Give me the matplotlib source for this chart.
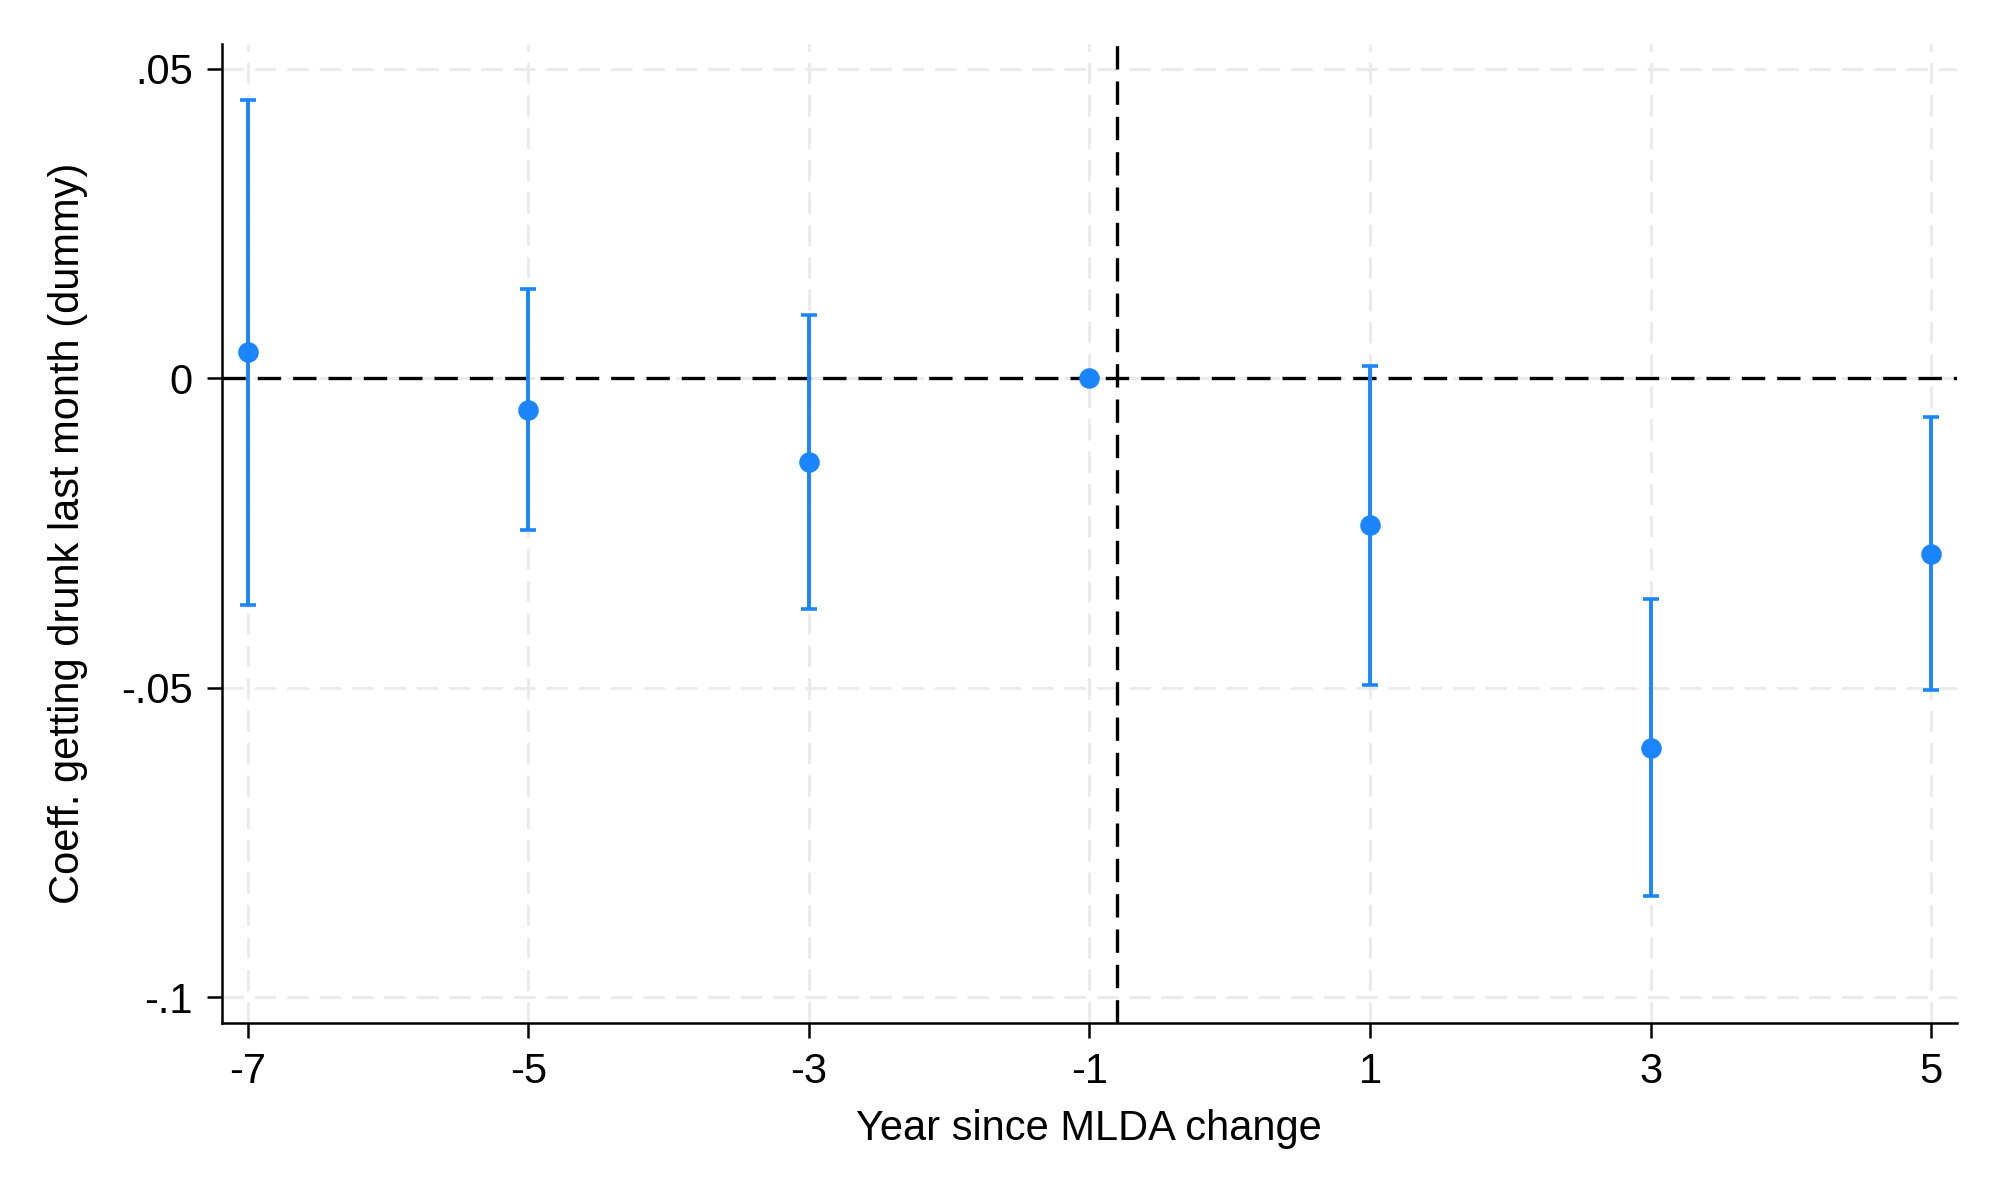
import numpy as np
import matplotlib.pyplot as plt

# event-study coefficients
years = [-7, -5, -3, -1, 1, 3, 5]
coef = [0.0042, -0.0051, -0.0135, 0.0, -0.0237, -0.0597, -0.0284]
ci_low = [-0.0366, -0.0245, -0.0372, 0.0, -0.0495, -0.0837, -0.0504]
ci_high = [0.0450, 0.0144, 0.0102, 0.0, 0.0020, -0.0357, -0.0063]

xticks = [-7, -5, -3, -1, 1, 3, 5]
yticks = [-0.1, -0.05, 0.0, 0.05]
ytick_labels = ["-.1", "-.05", "0", ".05"]
event_line = -0.8

plt.rcParams['font.family'] = ['Liberation Sans', 'DejaVu Sans']

blue = "#1a85ff"

fig = plt.figure(figsize=(10, 6), dpi=200)
ax = fig.add_axes([0.1109, 0.1473, 0.8674, 0.8164])

coef = np.array(coef)
err = np.array([coef - np.array(ci_low), np.array(ci_high) - coef])
has_ci = err.sum(axis=0) > 0

# reference period has no interval
ax.errorbar(np.array(years)[has_ci], coef[has_ci], yerr=err[:, has_ci],
            fmt="none", ecolor=blue, elinewidth=1.4, capsize=3.0,
            capthick=1.3, zorder=3)
ax.plot(years, coef, "o", color=blue, markersize=6.4, zorder=4)

ax.axhline(0, color="black", lw=1.2, dashes=(7, 3.6), zorder=2)
ax.axvline(event_line, color="black", lw=1.2, dashes=(7, 3.6), zorder=2)

ax.set_xlim(-7.185, 5.182)
ax.set_ylim(-0.1042, 0.0541)
ax.set_xticks(xticks)
ax.set_xticklabels([str(v) for v in xticks])
ax.set_yticks(yticks)
ax.set_yticklabels(ytick_labels)

ax.grid(True, color="#ebebeb", lw=1.1, dashes=(7, 3.6), zorder=0)
ax.set_axisbelow(True)

for side in ["top", "right"]:
    ax.spines[side].set_visible(False)
for side in ["left", "bottom"]:
    ax.spines[side].set_linewidth(0.9)
    ax.spines[side].set_color("black")

ax.tick_params(axis="both", direction="out", length=5.5, width=0.9,
               labelsize=15, pad=5)

ax.set_xlabel("Year since MLDA change", fontsize=15, labelpad=6)
ax.set_ylabel("Coeff. getting drunk last month (dummy)", fontsize=15, labelpad=12)

fig.savefig("out.png", dpi=200, facecolor="white")
